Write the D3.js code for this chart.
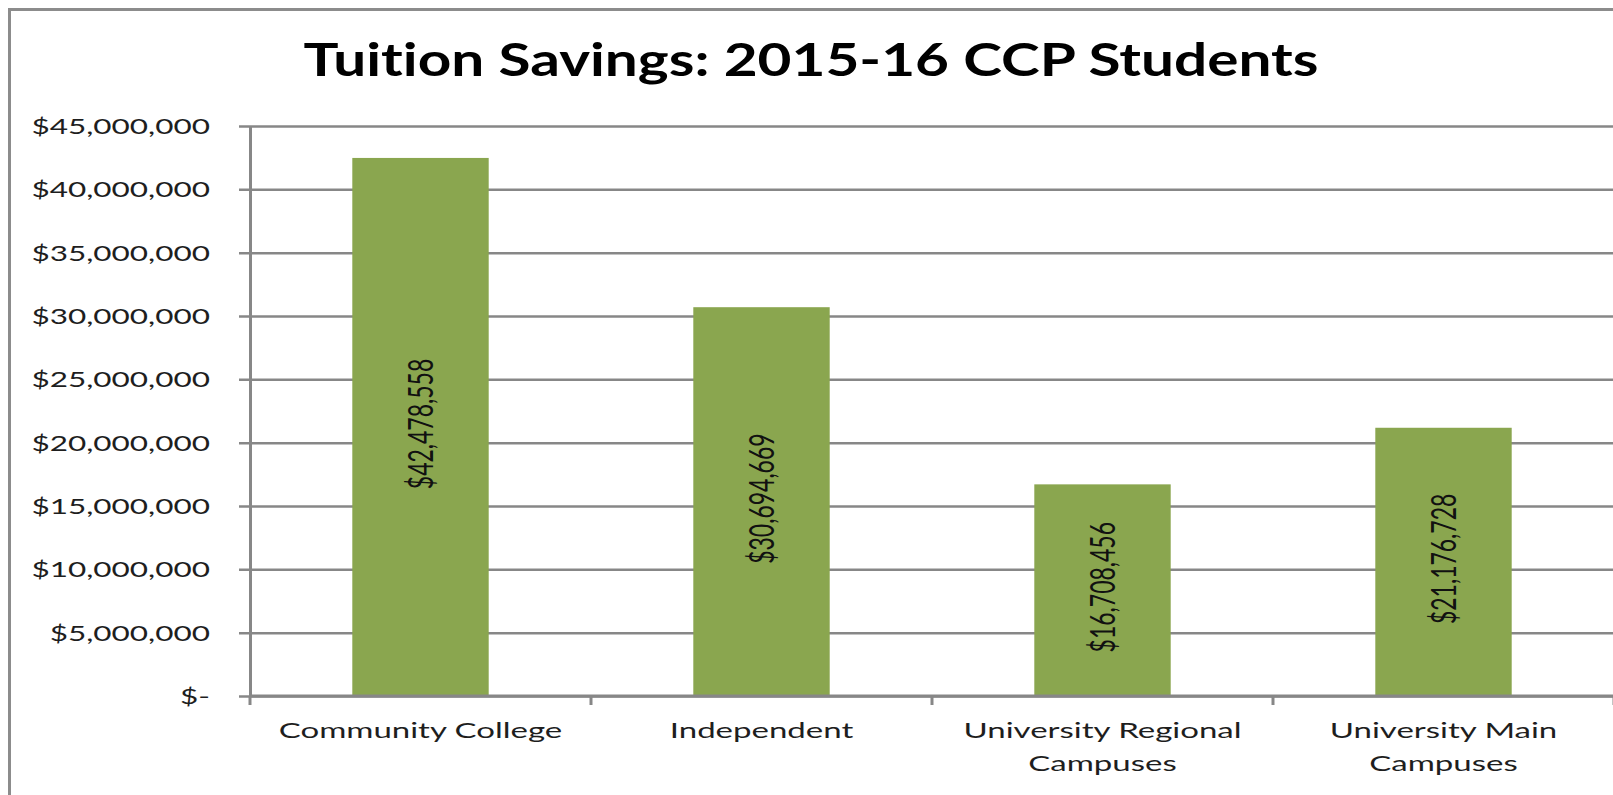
<!DOCTYPE html>
<html>
<head>
<meta charset="utf-8">
<script src="https://cdn.jsdelivr.net/npm/d3@7"></script>
<style>
  body { margin: 0; background: #FFFFFF; }
  svg { display: block; }
  text { font-family: Lato, "Open Sans", sans-serif; font-variant-ligatures: none; }
</style>
</head>
<body>
<svg></svg>
<script>
//--Data
const categories = ["Community College", "Independent", "University Regional Campuses", "University Main Campuses"];
const categoryLines = [["Community College"], ["Independent"], ["University Regional", "Campuses"], ["University Main", "Campuses"]];
const savings = [42478558, 30694669, 16708456, 21176728];
const yTicks = [0, 5000000, 10000000, 15000000, 20000000, 25000000, 30000000, 35000000, 40000000, 45000000];
const title = "Tuition Savings: 2015-16 CCP Students";

//--Canvas
var canvas = {
  width: 1613,
  height: 795,
  left: 250,
  right: 1614,
  top: 126,
  bottom: 696,
  stretch: 1.5,
  titleStretch: 1.3,
  bar: "#8AA64F",
  grid: "#878787"
};

let root = d3.select("svg")
  .attr("width", canvas.width)
  .attr("height", canvas.height)
  .style("background-color", "#FFFFFF");

//Outer chart border (cut off at the right and bottom like the reference)
root.append("rect")
  .attr("x", 9.5)
  .attr("y", 9.5)
  .attr("width", canvas.width + 50)
  .attr("height", canvas.height + 50)
  .attr("fill", "none")
  .attr("stroke", "#8C8C8C")
  .attr("stroke-width", 3);

//--Scales
let x = d3.scaleBand()
  .domain(categories)
  .range([canvas.left, canvas.right])
  .paddingInner(0.6)
  .paddingOuter(0.3);

let y = d3.scaleLinear()
  .domain([0, 45000000])
  .range([canvas.bottom, canvas.top]);

const fmtMoney = d => d === 0 ? "$-" : "$" + d3.format(",")(d);

//--Title
root.append("text")
  .attr("transform", "translate(811,76) scale(" + canvas.titleStretch + ",1)")
  .attr("text-anchor", "middle")
  .style("font-size", "45px")
  .style("font-weight", 700)
  .attr("fill", "#000000")
  .text(title);

//--Y axis with gridlines
let yAxis = root.append("g")
  .attr("transform", "translate(" + canvas.left + ",0)")
  .call(d3.axisLeft(y)
    .tickValues(yTicks)
    .tickSizeInner(-(canvas.right - canvas.left))
    .tickSizeOuter(0)
    .tickFormat(fmtMoney));
yAxis.select(".domain")
  .attr("stroke", canvas.grid)
  .attr("stroke-width", 3);
yAxis.selectAll(".tick line")
  .attr("x1", -11)
  .attr("stroke", canvas.grid)
  .attr("stroke-width", 2.5);
yAxis.selectAll(".tick text")
  .attr("x", null)
  .attr("dy", null)
  .attr("transform", "translate(-40,7.5) scale(" + canvas.stretch + ",1)")
  .attr("fill", "#1E1E1E")
  .style("font-size", "21px")
  .style("font-family", "Lato, 'Open Sans', sans-serif");

//--Bars
root.append("g")
  .selectAll("rect")
  .data(savings)
  .enter()
  .append("rect")
  .attr("x", (d, i) => x(categories[i]))
  .attr("y", d => y(d))
  .attr("width", x.bandwidth())
  .attr("height", d => y(0) - y(d))
  .attr("fill", canvas.bar);

//--X axis: baseline and boundary ticks
let xAxis = root.append("g");
xAxis.append("line")
  .attr("x1", canvas.left)
  .attr("x2", canvas.right)
  .attr("y1", y(0))
  .attr("y2", y(0))
  .attr("stroke", canvas.grid)
  .attr("stroke-width", 3);
xAxis.selectAll(".bound")
  .data(d3.range(categories.length + 1))
  .enter()
  .append("line")
  .classed("bound", true)
  .attr("x1", i => canvas.left + i * x.step())
  .attr("x2", i => canvas.left + i * x.step())
  .attr("y1", y(0))
  .attr("y2", y(0) + 9)
  .attr("stroke", canvas.grid)
  .attr("stroke-width", 3);

//Category labels, wrapped like the reference
let catLabels = xAxis.selectAll(".cat")
  .data(categories)
  .enter()
  .append("text")
  .classed("cat", true)
  .attr("transform", d => "translate(" + (x(d) + x.bandwidth() / 2) + "," + (y(0) + 42) + ") scale(" + canvas.stretch + ",1)")
  .attr("text-anchor", "middle")
  .attr("fill", "#1E1E1E")
  .style("font-size", "22px");
catLabels.selectAll("tspan")
  .data((d, i) => categoryLines[i])
  .enter()
  .append("tspan")
  .attr("x", 0)
  .attr("dy", (d, i) => i === 0 ? 0 : 33)
  .text(d => d);

//--Data labels, rotated inside bars
root.append("g")
  .selectAll("text")
  .data(savings)
  .enter()
  .append("text")
  .attr("transform", (d, i) => "translate(" + (x(categories[i]) + x.bandwidth() / 2) + "," + ((y(d) + y(0)) / 2 - 3) + ") scale(" + canvas.stretch + ",1) rotate(-90)")
  .attr("text-anchor", "middle")
  .attr("dy", "0.36em")
  .attr("fill", "#111111")
  .style("font-size", "23px")
  .text(d => "$" + d3.format(",")(d));
</script>
</body>
</html>
